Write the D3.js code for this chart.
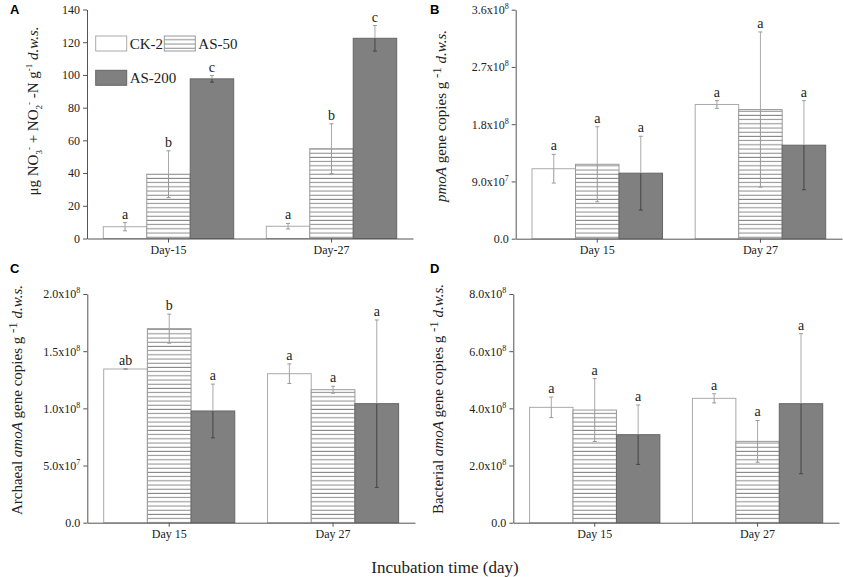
<!DOCTYPE html>
<html>
<head>
<meta charset="utf-8">
<script src="https://cdn.jsdelivr.net/npm/d3@7"></script>
<style>
  body { margin: 0; background: #fff; }
  svg { display: block; }
  text { font-family: "Liberation Serif", "Times New Roman", serif; fill: #222; }
  .panel-label { font-family: "Liberation Sans", Arial, sans-serif; font-weight: bold; font-size: 13px; fill: #000; }
  .axis path, .axis line { stroke: #555; }
</style>
</head>
<body>
<svg id="chart" width="843" height="577"></svg>
<script>
// treatments and sampling days
var treatments = ["CK-2", "AS-50", "AS-200"];
var daysA = ["Day-15", "Day-27"];
var days = ["Day 15", "Day 27"];

// A: NO3- + NO2- -N (ug g-1 d.w.s.), rows = day, cols = treatment
var nitrateMean = [[7.2, 39.3, 97.6], [7.5, 54.9, 122.4]];
var nitrateErr = [[2.5, 14.3, 2.0], [1.7, 15.2, 7.8]];
var nitrateLetters = [["a", "b", "c"], ["a", "b", "c"]];
var nitrateTicks = [0, 20, 40, 60, 80, 100, 120, 140];
var nitrateTickLabels = ["0", "20", "40", "60", "80", "100", "120", "140"];

// B: pmoA gene copies
var pmoaMean = [[1.10e8, 1.17e8, 1.03e8], [2.11e8, 2.03e8, 1.47e8]];
var pmoaErr = [[0.225e8, 0.59e8, 0.58e8], [0.06e8, 1.22e8, 0.70e8]];
var pmoaLetters = [["a", "a", "a"], ["a", "a", "a"]];
var pmoaTicks = [0, 9e7, 1.8e8, 2.7e8, 3.6e8];
var pmoaTickLabels = [["0.0"], ["9.0x10", "7"], ["1.8x10", "8"], ["2.7x10", "8"], ["3.6x10", "8"]];

// C: archaeal amoA gene copies
var aoaMean = [[1.344e8, 1.697e8, 0.977e8], [1.303e8, 1.163e8, 1.041e8]];
var aoaErr = [[0.003e8, 0.127e8, 0.235e8], [0.086e8, 0.03e8, 0.732e8]];
var aoaLetters = [["ab", "b", "a"], ["a", "a", "a"]];
var aoaTicks = [0, 5e7, 1e8, 1.5e8, 2e8];
var aoaTickLabels = [["0.0"], ["5.0x10", "7"], ["1.0x10", "8"], ["1.5x10", "8"], ["2.0x10", "8"]];

// D: bacterial amoA gene copies
var aobMean = [[4.035e8, 3.94e8, 3.079e8], [4.35e8, 2.845e8, 4.163e8]];
var aobErr = [[0.36e8, 1.10e8, 1.04e8], [0.16e8, 0.73e8, 2.45e8]];
var aobLetters = [["a", "a", "a"], ["a", "a", "a"]];
var aobTicks = [0, 2e8, 4e8, 6e8, 8e8];
var aobTickLabels = [["0.0"], ["2.0x10", "8"], ["4.0x10", "8"], ["6.0x10", "8"], ["8.0x10", "8"]];

var serif = '"Liberation Serif", "Times New Roman", serif';
var svg = d3.select("#chart");

// hatch for AS-50
var defs = svg.append("defs");
var pat = defs.append("pattern")
  .attr("id", "hatch")
  .attr("patternUnits", "userSpaceOnUse")
  .attr("width", 8).attr("height", 4.2);
pat.append("rect").attr("width", 8).attr("height", 4.2).attr("fill", "#fff");
pat.append("line").attr("x1", 0).attr("x2", 8).attr("y1", 2).attr("y2", 2)
  .attr("stroke", "#8a8a8a").attr("stroke-width", 1);

var fills = ["#fff", "url(#hatch)", "#808080"];
var strokes = ["#aaa", "#999", "#666"];

// rich text helper: segments [text, style]
function richText(sel, segs) {
  segs.forEach(function(s) {
    var t = sel.append("tspan").text(s[0]);
    if (s[1] === "it") t.style("font-style", "italic");
    if (s[1] === "sub") t.attr("baseline-shift", "sub").style("font-size", "9px");
    if (s[1] === "sup") t.attr("baseline-shift", "super").style("font-size", "9px");
    if (s[1] === "bigsup") t.attr("baseline-shift", "40%").style("font-size", "13px");
  });
}

var panels = [
  { label: "A", lx: 10, ly: 14, xr: [87, 413], yr: [238.5, 9.5], max: 140,
    cats: daysA, mean: nitrateMean, err: nitrateErr, letters: nitrateLetters,
    ticks: nitrateTicks, tickLabels: nitrateTickLabels.map(function(d) { return [d]; }),
    tx: 35, ty: 111,
    title: [["\u03bcg NO", ""], ["3", "sub"], ["-", "sup"], [" + NO", ""], ["2", "sub"], ["-", "sup"],
            [" -N g", ""], ["-1", "sup"], [" d.w.s.", "it"]] },
  { label: "B", lx: 430, ly: 14, xr: [515.7, 842], yr: [238.7, 9.7], max: 3.6e8,
    cats: days, mean: pmoaMean, err: pmoaErr, letters: pmoaLetters,
    ticks: pmoaTicks, tickLabels: pmoaTickLabels, tx: 443, ty: 116,
    title: [["pmoA", "it"], [" gene copies g ", ""], ["-1", "bigsup"], [" d.w.s.", "it"]] },
  { label: "C", lx: 10, ly: 273, xr: [87.3, 415], yr: [522.7, 294], max: 2e8,
    cats: days, mean: aoaMean, err: aoaErr, letters: aoaLetters,
    ticks: aoaTicks, tickLabels: aoaTickLabels, tx: 19, ty: 400,
    title: [["Archaeal ", ""], ["amoA", "it"], [" gene copies g ", ""], ["-1", "bigsup"], [" d.w.s.", "it"]] },
  { label: "D", lx: 430, ly: 273, xr: [513.3, 839], yr: [522.7, 294], max: 8e8,
    cats: days, mean: aobMean, err: aobErr, letters: aobLetters,
    ticks: aobTicks, tickLabels: aobTickLabels, tx: 440, ty: 399,
    title: [["Bacterial ", ""], ["amoA", "it"], [" gene copies g ", ""], ["-1", "bigsup"], [" d.w.s.", "it"]] }
];

panels.forEach(function(p) {
  var g = svg.append("g");
  var x0 = d3.scaleBand().domain(p.cats).range(p.xr).paddingInner(0.2).paddingOuter(0.1);
  var x1 = d3.scaleBand().domain(treatments).range([0, x0.bandwidth()]);
  var y = d3.scaleLinear().domain([0, p.max]).range(p.yr);

  // bars + error bars + letters
  p.cats.forEach(function(day, di) {
    var grp = g.append("g").attr("transform", "translate(" + x0(day) + ",0)");
    var rows = treatments.map(function(t, ti) {
      return { t: t, ti: ti, m: p.mean[di][ti], e: p.err[di][ti], l: p.letters[di][ti] };
    });
    grp.selectAll("rect").data(rows).enter().append("rect")
      .attr("x", function(d) { return x1(d.t); })
      .attr("width", x1.bandwidth())
      .attr("y", function(d) { return y(d.m); })
      .attr("height", function(d) { return y(0) - y(d.m); })
      .attr("fill", function(d) { return fills[d.ti]; })
      .attr("stroke", function(d) { return strokes[d.ti]; })
      .attr("stroke-width", 1);

    rows.forEach(function(d) {
      var cx = x1(d.t) + x1.bandwidth() / 2;
      var lower = d.ti === 2 ? "#444" : "#999";
      grp.append("line").attr("x1", cx).attr("x2", cx)
        .attr("y1", y(d.m + d.e)).attr("y2", y(d.m)).attr("stroke", "#aaa");
      grp.append("line").attr("x1", cx).attr("x2", cx)
        .attr("y1", y(d.m)).attr("y2", y(d.m - d.e)).attr("stroke", lower);
      grp.append("line").attr("x1", cx - 2).attr("x2", cx + 2)
        .attr("y1", y(d.m + d.e)).attr("y2", y(d.m + d.e)).attr("stroke", "#999");
      grp.append("line").attr("x1", cx - 2).attr("x2", cx + 2)
        .attr("y1", y(d.m - d.e)).attr("y2", y(d.m - d.e)).attr("stroke", lower);
      grp.append("text").attr("x", cx).attr("y", y(d.m + d.e) - 4)
        .attr("text-anchor", "middle").style("font-size", "14px").text(d.l);
    });
  });

  // axes
  var ya = g.append("g").attr("class", "axis")
    .attr("transform", "translate(" + p.xr[0] + ",0)")
    .call(d3.axisLeft(y).tickValues(p.ticks).tickSize(4).tickSizeOuter(0).tickPadding(3));
  ya.attr("font-family", serif).attr("font-size", 12);
  ya.selectAll(".tick text").each(function(d, i) {
    var t = d3.select(this).text(null).style("font-family", serif).attr("fill", "#222");
    var lab = p.tickLabels[i];
    t.append("tspan").text(lab[0]);
    if (lab[1]) t.append("tspan").attr("dy", "-5").style("font-size", "8px").text(lab[1]);
  });
  var xa = g.append("g").attr("class", "axis")
    .attr("transform", "translate(0," + p.yr[0] + ")")
    .call(d3.axisBottom(x0).tickSize(4).tickSizeOuter(0).tickPadding(3));
  xa.attr("font-family", serif).attr("font-size", 12);
  xa.selectAll(".tick text").style("font-family", serif).attr("fill", "#222");

  // y title
  var tt = g.append("text")
    .attr("transform", "translate(" + p.tx + "," + p.ty + ") rotate(-90)")
    .attr("text-anchor", "middle").attr("dominant-baseline", "middle")
    .style("font-size", "15px");
  richText(tt, p.title);

  g.append("text").attr("class", "panel-label").attr("x", p.lx).attr("y", p.ly).text(p.label);
});

// legend in panel A
var legendX = [95.7, 164.3, 95.7];
var legendY = [36, 36, 70.3];
var leg = svg.append("g");
treatments.forEach(function(t, i) {
  leg.append("rect").attr("x", legendX[i]).attr("y", legendY[i])
    .attr("width", 31).attr("height", 15)
    .attr("fill", fills[i]).attr("stroke", strokes[i]);
  leg.append("text").attr("x", legendX[i] + 34).attr("y", legendY[i] + 13)
    .style("font-size", "15px").text(t);
});

svg.append("text").attr("x", 445).attr("y", 573).attr("text-anchor", "middle")
  .style("font-size", "17px").text("Incubation time (day)");
</script>
</body>
</html>
